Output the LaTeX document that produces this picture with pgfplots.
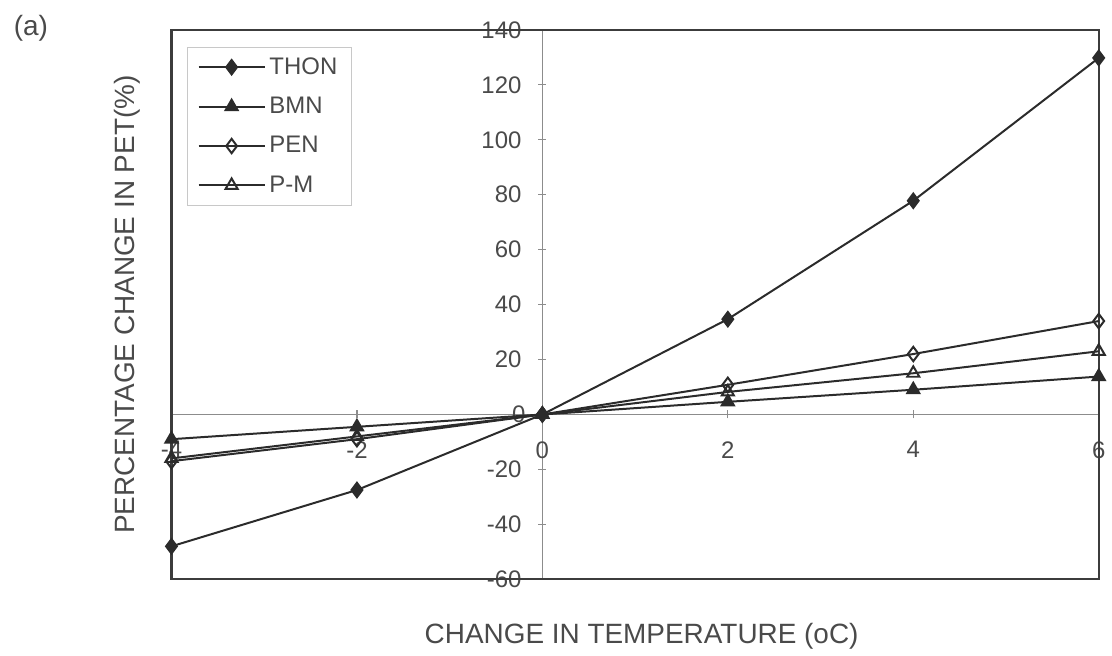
\documentclass[border=0pt]{standalone}
\usepackage{fontspec}
\setmainfont{Liberation Sans}
\usepackage{pgfplots}
\pgfplotsset{compat=1.18}
\definecolor{ink}{HTML}{2B2B2B}
\definecolor{txt}{HTML}{4A4A4A}
\definecolor{axisgray}{HTML}{8C8C8C}
\definecolor{framegray}{HTML}{3C3C3C}
\definecolor{boxgray}{HTML}{C8C8C8}

\begin{document}
\begin{tikzpicture}
  \begin{axis}[
    name=ax,
    scale only axis,
    width=465bp, height=275.5bp,
    xmin=-4, xmax=6, ymin=-60, ymax=140,
    axis lines=middle,
    axis line style={-, draw=axisgray, line width=0.6bp},
    xtick={-4,-2,...,6},
    ytick={-60,-40,...,140},
    tick align=center,
    major tick length=4bp,
    tick style={draw=axisgray, line width=0.6bp},
    /pgf/number format/assume math mode=true,
    ticklabel style={font=\fontsize{12bp}{14bp}\selectfont, text=txt},
    xticklabel style={yshift=-8bp},
    yticklabel style={xshift=-5bp},
    xlabel={CHANGE IN TEMPERATURE (oC)},
    ylabel={PERCENTAGE CHANGE IN PET(\%)},
    every axis x label/.style={at={(rel axis cs:0.507,0)}, yshift=-28.5bp, anchor=center,
      font=\fontsize{14bp}{16bp}\selectfont, text=txt},
    every axis y label/.style={at={(rel axis cs:0,0.5)}, xshift=-22bp, rotate=90, anchor=center,
      font=\fontsize{14bp}{16bp}\selectfont, text=txt},
    legend style={at={(0.017,0.969)}, anchor=north west, draw=boxgray, line width=0.5bp,
      fill=white, font=\fontsize{12bp}{14bp}\selectfont, text=txt,
      inner xsep=5bp, inner ysep=3bp, row sep=6bp, cells={anchor=west}},
    legend image code/.code={\draw[mark repeat=2,mark phase=2] plot coordinates {(0bp,0bp) (16.5bp,0bp) (33bp,0bp)};},
    clip=false,
  ]
    \draw[draw=framegray, line width=1.2bp] (rel axis cs:0,0) rectangle (rel axis cs:1,1);
    \node[font=\fontsize{12bp}{14bp}\selectfont, text=txt, anchor=east] at ([xshift=-5bp]axis cs:0,0) {0};
    \node[font=\fontsize{12bp}{14bp}\selectfont, text=txt, anchor=north] at ([yshift=-10bp]axis cs:0,0) {0};

    \addplot[ink, line width=1bp, mark=diamond*, mark size=3.6bp, mark options={fill=ink, solid}]
      coordinates {(-4,-48) (-2,-27.5) (0,0) (2,34.7) (4,77.8) (6,129.8)};
    \addlegendentry{THON}
    \addplot[ink, line width=1bp, mark=triangle*, mark size=3.5bp, mark options={fill=ink, solid}]
      coordinates {(-4,-9) (-2,-4.5) (0,0) (2,4.6) (4,9.0) (6,13.8)};
    \addlegendentry{BMN}
    \addplot[ink, line width=1bp, mark=diamond, mark size=3.6bp, mark options={fill=white, solid}]
      coordinates {(-4,-17) (-2,-9) (0,0) (2,10.8) (4,22) (6,34)};
    \addlegendentry{PEN}
    \addplot[ink, line width=1bp, mark=triangle, mark size=3.5bp, mark options={fill=white, solid}]
      coordinates {(-4,-16) (-2,-8) (0,0) (2,8.2) (4,15) (6,23)};
    \addlegendentry{P-M}
  \end{axis}
  \node[font=\fontsize{14bp}{16bp}\selectfont, text=txt] at ([shift={(-70.5bp,1bp)}]ax.north west) {(a)};
  \path ([shift={(-86bp,-37bp)}]ax.south west) rectangle ([shift={(5bp,15bp)}]ax.north east);
\end{tikzpicture}
\end{document}
